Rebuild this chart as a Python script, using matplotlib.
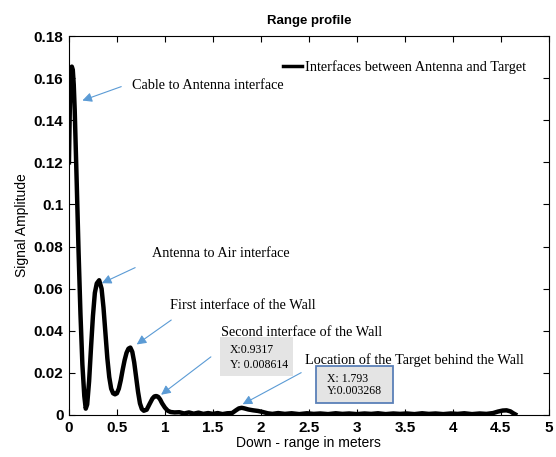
import matplotlib
matplotlib.use("Agg")
import matplotlib.pyplot as plt
from matplotlib.patches import Rectangle

# range profile samples (down-range in m, amplitude)
range_m = [0.00, 0.01, 0.02, 0.03, 0.04, 0.05, 0.06, 0.08, 0.10, 0.12,
           0.14, 0.16, 0.175, 0.19, 0.21, 0.23, 0.25, 0.27, 0.29, 0.315,
           0.34, 0.36, 0.38, 0.40, 0.42, 0.44, 0.46, 0.48, 0.50, 0.52,
           0.54, 0.56, 0.58, 0.60, 0.62, 0.64, 0.66, 0.68, 0.70, 0.72,
           0.74, 0.76, 0.78, 0.81, 0.84, 0.87, 0.89, 0.91, 0.93, 0.95,
           0.97, 1.00, 1.03, 1.06, 1.10, 1.15, 1.20, 1.25, 1.30, 1.35,
           1.40, 1.45, 1.50, 1.55, 1.60, 1.65, 1.70, 1.74, 1.77, 1.80,
           1.83, 1.87, 1.92, 1.97, 2.02, 2.07, 2.12, 2.18, 2.25, 2.32,
           2.40, 2.48, 2.55, 2.62, 2.70, 2.78, 2.85, 2.92, 3.00, 3.08,
           3.15, 3.22, 3.30, 3.38, 3.45, 3.52, 3.60, 3.68, 3.75, 3.82,
           3.90, 3.98, 4.05, 4.12, 4.20, 4.28, 4.35, 4.42, 4.47, 4.52,
           4.56, 4.60, 4.63, 4.65]
amplitude = [0.120, 0.148, 0.161, 0.1655, 0.164, 0.157, 0.145, 0.112, 0.078, 0.048,
             0.024, 0.009, 0.003, 0.005, 0.016, 0.032, 0.047, 0.058, 0.0625, 0.064,
             0.060, 0.051, 0.039, 0.027, 0.018, 0.0125, 0.0103, 0.0098, 0.0103, 0.0125,
             0.0165, 0.0215, 0.026, 0.0295, 0.0315, 0.032, 0.030, 0.025, 0.018, 0.011,
             0.0055, 0.0028, 0.002, 0.0025, 0.0052, 0.0078, 0.0088, 0.009, 0.0086, 0.0074,
             0.0056, 0.0035, 0.002, 0.0014, 0.0012, 0.0013, 0.0007, 0.0012, 0.0006, 0.0011,
             0.0005, 0.0009, 0.0005, 0.0009, 0.0004, 0.0008, 0.0009, 0.0022, 0.0031, 0.0034,
             0.0031, 0.0026, 0.0022, 0.0019, 0.0014, 0.0008, 0.0005, 0.0009, 0.0005, 0.0008,
             0.0004, 0.0008, 0.0005, 0.0007, 0.0004, 0.0008, 0.0005, 0.0007, 0.0004, 0.0007,
             0.0005, 0.0008, 0.0004, 0.0007, 0.0005, 0.0007, 0.0004, 0.0008, 0.0005, 0.0007,
             0.0004, 0.0007, 0.0005, 0.0008, 0.0004, 0.0007, 0.0005, 0.0009, 0.0016, 0.0021,
             0.0022, 0.0017, 0.0008, 0.0003]

legend_label = 'Interfaces between Antenna and Target'
x_ticks = [0, 0.5, 1, 1.5, 2, 2.5, 3, 3.5, 4, 4.5, 5]
x_tick_labels = ['0', '0.5', '1', '1.5', '2', '2.5', '3', '3.5', '4', '4.5', '5']
y_ticks = [0, 0.02, 0.04, 0.06, 0.08, 0.1, 0.12, 0.14, 0.16, 0.18]
y_tick_labels = ['0', '0.02', '0.04', '0.06', '0.08', '0.1', '0.12', '0.14', '0.16', '0.18']

# (label, text position, arrow tail, arrow head)
callouts = [
    ('Cable to Antenna interface', (0.66, 0.1563), (0.545, 0.156), (0.14, 0.1494)),
    ('Antenna to Air interface', (0.87, 0.0765), (0.69, 0.070), (0.343, 0.0626)),
    ('First interface of the Wall', (1.05, 0.0521), (1.066, 0.0451), (0.706, 0.0335)),
    ('Second interface of the Wall', (1.58, 0.0392), (1.479, 0.0276), (0.96, 0.0096)),
    ('Location of the Target behind the Wall', (2.46, 0.0261), (2.42, 0.0201), (1.81, 0.0051)),
]
tip_x = [0.9317, 1.793]
tip_y = [0.008614, 0.003268]

ARROW = '#5b9bd5'
SANS = 'Liberation Sans'
SERIF = 'Liberation Serif'

fig = plt.figure(figsize=(5.56, 4.57), dpi=100)
ax = fig.add_axes([0.124, 0.092, 0.863, 0.829])

ax.plot(range_m, amplitude, color='black', lw=3.2, solid_joinstyle='round',
        label=legend_label, zorder=3)

ax.set_xlim(0, 5)
ax.set_ylim(0, 0.18)
ax.set_xticks(x_ticks)
ax.set_xticklabels(x_tick_labels)
ax.set_yticks(y_ticks)
ax.set_yticklabels(y_tick_labels)
ax.tick_params(direction='in', top=True, right=True, length=4, width=0.8,
               labelsize=11, pad=4)
for lab in ax.get_xticklabels() + ax.get_yticklabels():
    lab.set_fontfamily(SANS)
    lab.set_fontweight('bold')
for sp in ax.spines.values():
    sp.set_linewidth(0.8)

ax.set_title('Range profile', fontfamily=SANS, fontsize=9.5, fontweight='bold', pad=9)
ax.set_xlabel('Down - range in meters', fontfamily=SANS, fontsize=10, labelpad=1)
ax.set_ylabel('Signal Amplitude', fontfamily=SANS, fontsize=10, labelpad=3)

leg = ax.legend(loc='upper right', bbox_to_anchor=(0.98, 0.97), frameon=False,
                prop={'family': SERIF, 'size': 10.3}, handlelength=1.3,
                handletextpad=0.25)
leg.get_lines()[0].set_linewidth(2.5)

for label, txt, tail, head in callouts:
    ax.text(txt[0], txt[1], label, fontfamily=SERIF, fontsize=10.3,
            va='center', ha='left', zorder=5)
    ax.annotate('', xy=head, xytext=tail,
                arrowprops=dict(arrowstyle='-|>', color=ARROW, lw=0.8,
                                mutation_scale=14, shrinkA=0, shrinkB=0),
                zorder=4)

# data tip boxes
ax.add_patch(Rectangle((1.573, 0.0186), 0.763, 0.0185, facecolor='#e4e4e4',
                       edgecolor='none', zorder=4))
ax.text(1.68, 0.0308, 'X:%.4f' % tip_x[0], fontfamily=SERIF, fontsize=8.5,
        va='center', zorder=5)
ax.text(1.68, 0.0236, 'Y: %.6f' % tip_y[0], fontfamily=SERIF, fontsize=8.5,
        va='center', zorder=5)

ax.add_patch(Rectangle((2.577, 0.0058), 0.80, 0.0173, facecolor='#e4e4e4',
                       edgecolor='#5a80b8', lw=1.3, zorder=4))
ax.text(2.69, 0.0171, 'X: %.3f' % tip_x[1], fontfamily=SERIF, fontsize=8.5,
        va='center', zorder=5)
ax.text(2.69, 0.0116, 'Y:%.6f' % tip_y[1], fontfamily=SERIF, fontsize=8.5,
        va='center', zorder=5)

fig.savefig('out.png', dpi=100)
